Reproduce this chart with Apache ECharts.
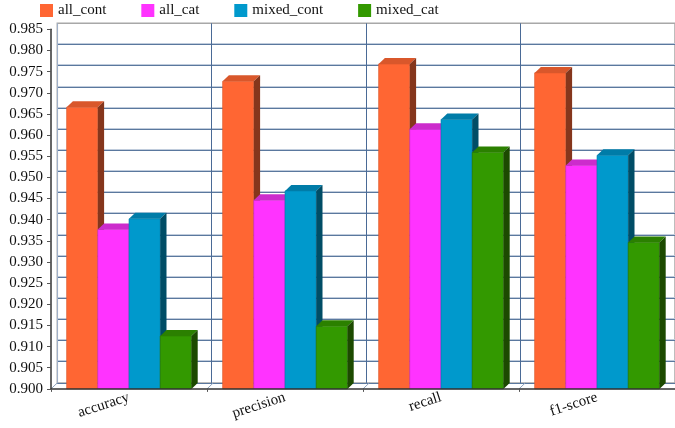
<!DOCTYPE html>
<html lang="en">
<head>
    <meta charset="UTF-8" />
    <title>metrics 3d bars</title>
    <script src="https://cdn.jsdelivr.net/npm/echarts@6/dist/echarts.min.js"></script>
</head>
<body style="margin:0">
<div id="main" style="width: 675px;height:428px;"></div>
<script type="text/javascript">
    var categories = ['accuracy', 'precision', 'recall', 'f1-score'];
    var seriesNames = ['all_cont', 'all_cat', 'mixed_cont', 'mixed_cat'];
    var allCont = [0.9666, 0.9727, 0.9768, 0.9747];
    var allCat = [0.9377, 0.9446, 0.9614, 0.9528];
    var mixedCont = [0.9402, 0.9468, 0.9637, 0.9552];
    var mixedCat = [0.9125, 0.9148, 0.9559, 0.9346];
    var yMin = 0.9, yMax = 0.985, yStep = 0.005;

    // front / top / side colours of each bar set
    var faces = [
        ['#ff6633', '#d9572b', '#85361c'],
        ['#ff33ff', '#cc2ccc', '#8c1c8c'],
        ['#0099cc', '#007ca8', '#004d66'],
        ['#339900', '#2b8000', '#1c4a00']
    ];
    var DX = 6.3, DY = 6;   // depth of the 3d effect
    var font = 'Liberation Serif';

    var myChart = echarts.init(document.getElementById('main'));

    function barRender(k) {
        return function (params, api) {
            var cat = api.value(0);
            var top = api.coord([cat, api.value(1)]);
            var base = api.coord([cat, yMin]);
            var catW = api.size([1, 0])[0];
            var groupW = catW * 0.8;
            var bw = groupW / 4;
            var x0 = top[0] - groupW / 2 + k * bw;
            var x1 = x0 + bw;
            var yT = top[1], yB = base[1];
            var c = faces[k];
            return {
                type: 'group',
                children: [
                    {type: 'rect', shape: {x: x0, y: yT, width: bw, height: yB - yT},
                        style: {fill: c[0], stroke: c[1], lineWidth: 0.6}},
                    {type: 'polygon', shape: {points: [[x0, yT], [x1, yT], [x1 + DX, yT - DY], [x0 + DX, yT - DY]]},
                        style: {fill: c[1]}},
                    {type: 'polygon', shape: {points: [[x1, yT], [x1 + DX, yT - DY], [x1 + DX, yB - DY], [x1, yB]]},
                        style: {fill: c[2]}}
                ]
            };
        };
    }

    var values = [allCont, allCat, mixedCont, mixedCat];
    var series = [];
    // floor diagonals at the category boundaries
    series.push({
        type: 'custom',
        xAxisIndex: 0, yAxisIndex: 0,
        silent: true,
        z: 1,
        data: categories.map(function (c, i) { return [i, yMin]; }),
        renderItem: function (params, api) {
            var p = api.coord([api.value(0), yMin]);
            var x = p[0] - api.size([1, 0])[0] / 2;
            return {type: 'line', shape: {x1: x, y1: p[1], x2: x + DX, y2: p[1] - DY},
                style: {stroke: '#8fa3bd', lineWidth: 1}};
        }
    });
    for (var k = 0; k < 4; k++) {
        series.push({
            name: seriesNames[k],
            type: 'custom',
            xAxisIndex: 0, yAxisIndex: 0,
            itemStyle: {color: faces[k][0]},
            z: 2 + k,
            data: values[k].map(function (v, i) { return [i, v]; }),
            renderItem: barRender(k)
        });
    }

    var gW = 625.6, gH = 359.6;
    var option = {
        animation: false,
        legend: {
            left: 35, top: -2,
            icon: 'rect',
            itemWidth: 13, itemHeight: 13,
            itemGap: 35,
            textStyle: {fontFamily: font, fontSize: 15, color: '#111'},
            data: seriesNames
        },
        grid: [
            {left: 51, top: 29.3, width: gW, height: gH},
            {left: 51 + DX, top: 29.3 - DY, width: gW, height: gH,
                show: true, borderColor: '#a8a8a8', borderWidth: 1.5, backgroundColor: '#fff'},
            {left: 51 + DX, top: 29.3 - DY - 1, width: gW, height: gH}
        ],
        xAxis: [
            {type: 'category', gridIndex: 0, data: categories, z: 10,
                axisLine: {lineStyle: {color: '#333', width: 1.5}},
                axisTick: {show: true, length: 3, lineStyle: {color: '#555'}},
                axisLabel: {interval: 0, rotate: 18, margin: 8, fontFamily: font, fontSize: 15, color: '#111'},
                splitLine: {show: false}},
            {type: 'category', gridIndex: 1, data: categories,
                axisLine: {show: false}, axisTick: {show: false}, axisLabel: {show: false},
                splitLine: {show: true, interval: 0,
                    lineStyle: {color: ['#a0b0c8', '#4a6a96', '#4a6a96', '#4a6a96', '#a0b0c8'], width: 1}}},
            {type: 'category', gridIndex: 2, data: categories,
                axisLine: {show: false}, axisTick: {show: false}, axisLabel: {show: false},
                splitLine: {show: false}}
        ],
        yAxis: [
            {type: 'value', gridIndex: 0, min: yMin, max: yMax, interval: yStep, z: 10,
                axisLine: {show: true, lineStyle: {color: '#333', width: 1.5}},
                axisTick: {show: true, length: 4, lineStyle: {color: '#555'}},
                axisLabel: {margin: 8, fontFamily: font, fontSize: 15, color: '#111',
                    formatter: function (v) { return v.toFixed(3); }},
                splitLine: {show: false}},
            {type: 'value', gridIndex: 1, min: yMin, max: yMax, interval: yStep,
                axisLine: {show: false}, axisTick: {show: false}, axisLabel: {show: false},
                splitLine: {show: true, showMaxLine: false, lineStyle: {color: '#5a789e', width: 1}}},
            {type: 'value', gridIndex: 2, min: yMin, max: yMax, interval: yStep,
                axisLine: {show: false}, axisTick: {show: false}, axisLabel: {show: false},
                splitLine: {show: true, showMaxLine: false, showMinLine: false,
                    lineStyle: {color: '#c0ccdc', width: 1}}}
        ],
        series: series
    };
    myChart.setOption(option);
</script>
</body>
</html>
